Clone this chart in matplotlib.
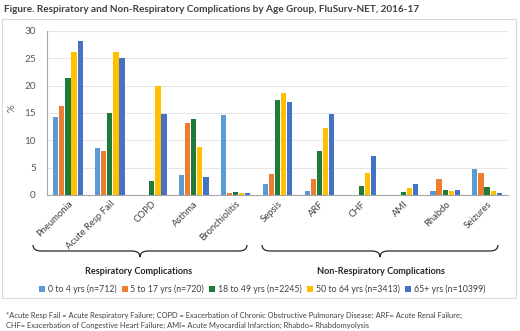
import matplotlib.pyplot as plt
from matplotlib.path import Path
from matplotlib.patches import PathPatch, Rectangle
import numpy as np

plt.rcParams['font.family'] = ['Lato', 'DejaVu Sans']

# complicanze (asse x)
categories = ['Pneumonia', 'Acute Resp Fail', 'COPD', 'Asthma', 'Bronchiolitis',
              'Sepsis', 'ARF', 'CHF', 'AMI', 'Rhabdo', 'Seizures']

# percentuali per fascia d'eta
age_0_4 = [14.3, 8.6, 0.0, 3.7, 14.6, 2.0, 0.7, 0.0, 0.0, 0.7, 4.8]
age_5_17 = [16.3, 8.1, 0.0, 13.1, 0.4, 3.9, 2.9, 0.0, 0.0, 2.9, 4.0]
age_18_49 = [21.4, 15.0, 2.6, 13.9, 0.5, 17.3, 8.0, 1.7, 0.5, 1.0, 1.4]
age_50_64 = [26.2, 26.1, 20.0, 8.8, 0.3, 18.6, 12.3, 4.1, 1.2, 0.7, 0.7]
age_65 = [28.1, 25.0, 14.8, 3.3, 0.4, 17.1, 14.9, 7.2, 2.1, 0.9, 0.4]

series_labels = ['0 to 4 yrs (n=712)', '5 to 17 yrs (n=720)', '18 to 49 yrs (n=2245)',
                 '50 to 64 yrs (n=3413)', '65+ yrs (n=10399)']
colors = ['#5B9BD5', '#ED7D31', '#1E7B3C', '#FFC000', '#4472C4']

W, H = 520, 331
fig = plt.figure(figsize=(W / 100, H / 100), dpi=100)


def px(x, y):
    # pixel (origine in alto a sinistra) -> coordinate figura
    return x / W, 1 - y / H


# cornice del grafico
fig.patches.append(Rectangle(px(2, 298), 514 / W, 279 / H, transform=fig.transFigure,
                             fill=False, edgecolor='#D9D9D9', linewidth=0.8))

fig.text(4 / W, 1 - 9 / H, 'Figure. Respiratory and Non-Respiratory Complications by Age Group, FluSurv-NET, 2016-17',
         fontsize=7.2, fontweight='bold', color='#404040', va='center', ha='left')

ax = fig.add_axes([47 / W, 1 - 195 / H, 461 / W, (195 - 31) / H])

x = np.arange(len(categories))
data = [age_0_4, age_5_17, age_18_49, age_50_64, age_65]
slot = 0.146
for i, (vals, lab, c) in enumerate(zip(data, series_labels, colors)):
    ax.bar(x + (i - 2) * slot, vals, width=0.125, color=c, label=lab, zorder=3)

ax.set_xlim(-0.5, len(categories) - 0.5)
ax.set_ylim(0, 30)
ax.set_yticks(np.arange(0, 31, 5))
ax.set_xticks(x)
ax.set_xticklabels(categories, rotation=45, ha='right', rotation_mode='anchor',
                   fontsize=6.8, color='#404040')
ax.tick_params(axis='y', labelsize=7.2, colors='#595959', length=0, pad=8)
ax.tick_params(axis='x', length=0, pad=3)
ax.grid(axis='y', color='#E6E6E6', linewidth=0.8, zorder=0)
for s in ['top', 'right']:
    ax.spines[s].set_visible(False)
ax.spines['left'].set_color('#A6A6A6')
ax.spines['bottom'].set_color('#A6A6A6')
fig.text(*px(12, 108), '%', fontsize=7, color='#595959', rotation=90,
         ha='center', va='center')


def brace(x0, x1, ytop, h):
    xc = (x0 + x1) / 2
    ym = ytop + h / 2
    yt = ytop + h
    q = 8
    pts = [(x0, ytop), (x0, ym), (x0 + q, ym), (xc - q, ym), (xc, ym), (xc, yt),
           (xc, ym), (xc + q, ym), (x1 - q, ym), (x1, ym), (x1, ytop)]
    codes = [Path.MOVETO, Path.CURVE3, Path.CURVE3, Path.LINETO, Path.CURVE3, Path.CURVE3,
             Path.CURVE3, Path.CURVE3, Path.LINETO, Path.CURVE3, Path.CURVE3]
    path = Path([px(a, b) for a, b in pts], codes)
    fig.patches.append(PathPatch(path, transform=fig.transFigure, fill=False,
                                 edgecolor='#262626', linewidth=0.9))


brace(33, 247, 245, 12)
brace(262, 498, 245, 12)
fig.text(*px(139, 271), 'Respiratory Complications', fontsize=6.6, fontweight='bold',
         color='#262626', ha='center', va='center')
fig.text(*px(381, 271), 'Non-Respiratory Complications', fontsize=6.6, fontweight='bold',
         color='#262626', ha='center', va='center')

handles, labels = ax.get_legend_handles_labels()
fig.legend(handles, labels, loc='center', bbox_to_anchor=px(262, 289), ncol=5,
           frameon=False, fontsize=6.3, handlelength=0.7, handleheight=0.7,
           handletextpad=0.3, columnspacing=0.6, labelcolor='#404040')

fig.text(*px(6, 315), '*Acute Resp Fail = Acute Respiratory Failure; COPD = Exacerbation of Chronic Obstructive Pulmonary Disease; ARF= Acute Renal Failure;',
         fontsize=5.4, color='#404040', ha='left', va='center')
fig.text(*px(6, 325), 'CHF= Exacerbation of Congestive Heart Failure; AMI= Acute Myocardial Infarction; Rhabdo= Rhabdomyolysis',
         fontsize=5.4, color='#404040', ha='left', va='center')

fig.savefig('out.png', dpi=100)
